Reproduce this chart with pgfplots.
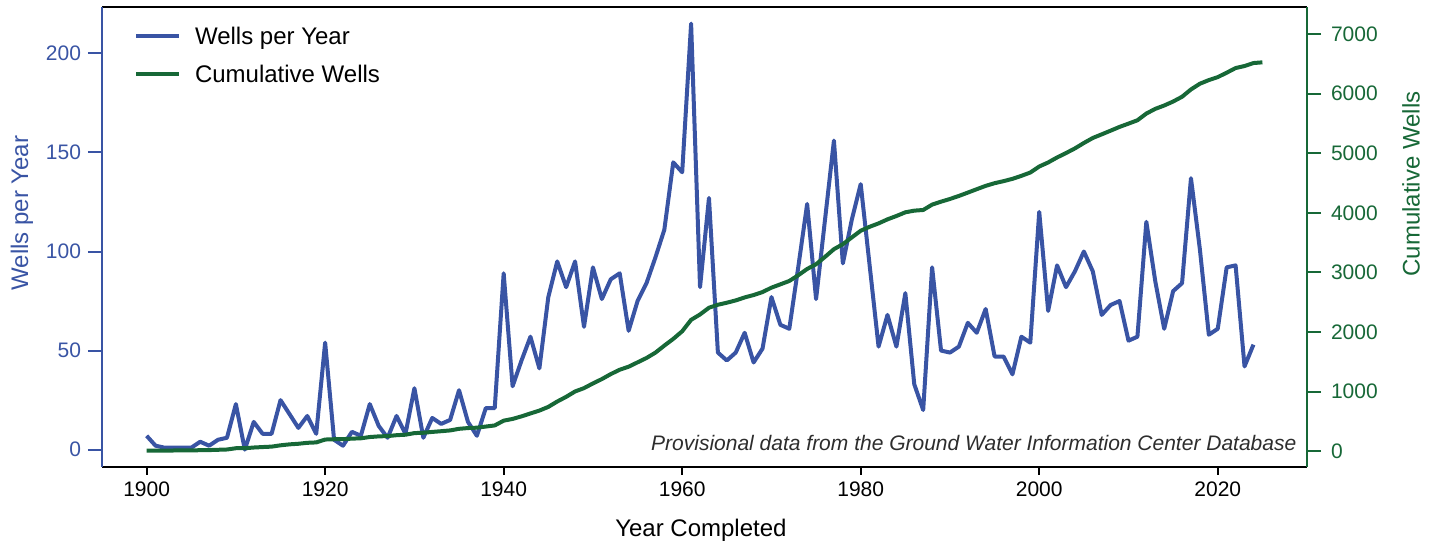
\documentclass[border=0pt]{standalone}
\usepackage{pgfplots}
\pgfplotsset{compat=1.18}
\usepackage{pgfplotstable}
\usepackage{fontspec}
\setmainfont{Liberation Sans}
\definecolor{wblue}{RGB}{57,84,164}
\definecolor{wgreen}{RGB}{23,104,55}
\definecolor{notegray}{RGB}{45,45,45}

\pgfplotstableread{
year wells
1900 7
1901 2
1902 1
1903 1
1904 1
1905 1
1906 4
1907 2
1908 5
1909 6
1910 23
1911 0
1912 14
1913 8
1914 8
1915 25
1916 18
1917 11
1918 17
1919 8
1920 54
1921 5
1922 2
1923 9
1924 7
1925 23
1926 12
1927 6
1928 17
1929 8
1930 31
1931 6
1932 16
1933 13
1934 15
1935 30
1936 14
1937 7
1938 21
1939 21
1940 89
1941 32
1942 45
1943 57
1944 41
1945 77
1946 95
1947 82
1948 95
1949 62
1950 92
1951 76
1952 86
1953 89
1954 60
1955 75
1956 84
1957 97
1958 111
1959 145
1960 140
1961 215
1962 82
1963 127
1964 49
1965 45
1966 49
1967 59
1968 44
1969 51
1970 77
1971 63
1972 61
1973 92
1974 124
1975 76
1976 116
1977 156
1978 94
1979 116
1980 134
1981 93
1982 52
1983 68
1984 52
1985 79
1986 33
1987 20
1988 92
1989 50
1990 49
1991 52
1992 64
1993 59
1994 71
1995 47
1996 47
1997 38
1998 57
1999 54
2000 120
2001 70
2002 93
2003 82
2004 90
2005 100
2006 90
2007 68
2008 73
2009 75
2010 55
2011 57
2012 115
2013 85
2014 61
2015 80
2016 84
2017 137
2018 101
2019 58
2020 61
2021 92
2022 93
2023 42
2024 53
}\wellsdata

\pgfplotstableread{
year cum
1900 6
1901 8
1902 9
1903 10
1904 11
1905 12
1906 15
1907 17
1908 22
1909 27
1910 48
1911 48
1912 60
1913 68
1914 75
1915 97
1916 113
1917 123
1918 139
1919 146
1920 194
1921 199
1922 201
1923 209
1924 215
1925 236
1926 247
1927 252
1928 267
1929 275
1930 302
1931 308
1932 322
1933 334
1934 347
1935 374
1936 387
1937 393
1938 412
1939 431
1940 511
1941 540
1942 583
1943 632
1944 680
1945 742
1946 832
1947 911
1948 1001
1949 1057
1950 1136
1951 1209
1952 1293
1953 1366
1954 1417
1955 1490
1956 1563
1957 1653
1958 1771
1959 1884
1960 2012
1961 2204
1962 2294
1963 2407
1964 2457
1965 2491
1966 2530
1967 2580
1968 2620
1969 2670
1970 2744
1971 2800
1972 2856
1973 2952
1974 3058
1975 3137
1976 3261
1977 3390
1978 3474
1979 3587
1980 3700
1981 3766
1982 3823
1983 3891
1984 3947
1985 4009
1986 4037
1987 4048
1988 4138
1989 4188
1990 4233
1991 4284
1992 4340
1993 4397
1994 4453
1995 4498
1996 4532
1997 4571
1998 4621
1999 4677
2000 4778
2001 4846
2002 4930
2003 5004
2004 5082
2005 5173
2006 5257
2007 5318
2008 5380
2009 5443
2010 5498
2011 5554
2012 5667
2013 5746
2014 5802
2015 5869
2016 5949
2017 6072
2018 6168
2019 6229
2020 6279
2021 6353
2022 6431
2023 6465
2024 6515
2025 6527
}\cumdata

\newcommand{\tickfont}{\fontsize{10.5bp}{12bp}\selectfont}
\newcommand{\labfont}{\fontsize{12bp}{14bp}\selectfont}

\begin{document}
\begin{tikzpicture}
\pgfplotsset{
  base/.style={
    width=602.5bp, height=229.85bp, scale only axis,
    xmin=1895, xmax=2030,
    at={(0,0)}, anchor=south west,
    /pgf/number format/assume math mode=true,
    /pgf/number format/1000 sep={},
    tick align=outside,
  },
}
% frame and x axis
\begin{axis}[base,
  ymin=-8.6, ymax=223.4,
  separate axis lines,
  x axis line style={black, line width=1bp},
  y axis line style={wblue, line width=1bp},
  xtick={1900,1920,...,2020},
  ytick=\empty,
  xtick pos=bottom,
  major tick length=4bp,
  xtick style={black, line width=1bp},
  xticklabel style={font=\tickfont, text=black},
  xlabel={Year Completed},
  xlabel style={font=\labfont, text=black, at={(axis description cs:0.497,0)}, anchor=base, yshift=-34.65bp},
]
\draw[black, line width=1bp] (rel axis cs:0,1) -- (rel axis cs:1,1);
\end{axis}
% left axis: wells per year
\begin{axis}[base,
  ymin=-8.6, ymax=223.4,
  hide x axis,
  axis y line*=left,
  y axis line style={wblue, line width=1bp},
  ytick={0,50,...,200},
  major tick length=7bp,
  ytick style={wblue, line width=1bp},
  yticklabel style={font=\tickfont, text=wblue},
  ylabel={Wells per Year},
  ylabel style={font=\labfont, text=wblue, at={([xshift=-40bp]axis description cs:0,0.5516)}, anchor=center},
  legend style={at={(axis description cs:0.0266,0.9667)}, anchor=north west, draw=none, fill=none,
    font=\labfont, row sep=5.6bp, inner sep=0pt, outer sep=0pt,
    nodes={inner sep=0pt, text height=11bp, text depth=2.4bp}},
  legend cell align=left,
  legend image code/.code={\draw[#1] (0bp,0bp) -- (21.5bp,0bp); \path (28.5bp,0bp);},
]
\addplot[wblue, line width=2bp, line join=round] table[x=year, y=wells] {\wellsdata};
\addlegendentry{Wells per Year}
\addlegendimage{wgreen, line width=2bp}
\addlegendentry{Cumulative Wells}
\node[anchor=base east, inner sep=0pt, font=\fontsize{10.5bp}{12bp}\selectfont\itshape, text=notegray]
  at ([xshift=-5.15bp, yshift=8.35bp]rel axis cs:1,0) {Provisional data from the Ground Water Information Center Database};
\end{axis}
% right axis: cumulative
\begin{axis}[base,
  ymin=-262, ymax=7456,
  hide x axis,
  axis y line*=right,
  y axis line style={wgreen, line width=1bp},
  ytick={0,1000,...,7000},
  major tick length=7bp,
  ytick style={wgreen, line width=1bp},
  yticklabel style={font=\tickfont, text=wgreen, xshift=1.5bp},
  ylabel={Cumulative Wells},
  ylabel style={font=\labfont, text=wgreen, at={([xshift=52bp]axis description cs:1,0.615)}, anchor=center},
]
\addplot[wgreen, line width=2bp, line join=round] table[x=year, y=cum] {\cumdata};
\end{axis}
\pgfresetboundingbox
\useasboundingbox (-51bp,-38.15bp) rectangle (667bp,233.35bp);
\end{tikzpicture}
\end{document}
